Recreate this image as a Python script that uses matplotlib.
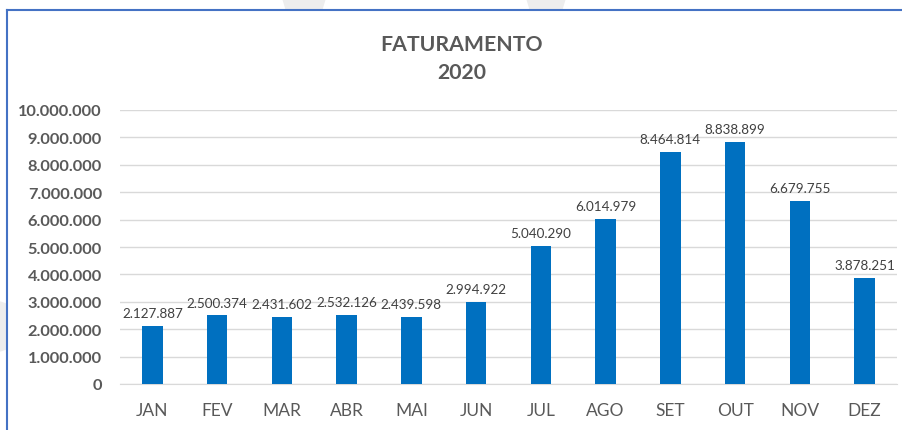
import matplotlib.pyplot as plt
from matplotlib.lines import Line2D
from matplotlib.patches import Polygon

months = ["JAN", "FEV", "MAR", "ABR", "MAI", "JUN",
          "JUL", "AGO", "SET", "OUT", "NOV", "DEZ"]
faturamento = [2127887, 2500374, 2431602, 2532126, 2439598, 2994922,
               5040290, 6014979, 8464814, 8838899, 6679755, 3878251]
y_ticks = list(range(0, 10000001, 1000000))

TXT = "#595959"
BAR = "#0070C0"

def fmt(v):
    return f"{v:,}".replace(",", ".")

plt.rcParams["font.family"] = ["Lato", "DejaVu Sans"]

fig = plt.figure(figsize=(9.03, 4.31), dpi=100)
W, H = 903, 431

# faint watermark shapes behind the chart
fig.patches.append(Polygon([(283 / W, 1), (325 / W, 1), (322 / W, 1 - 10 / H), (286 / W, 1 - 10 / H)],
                           closed=True, transform=fig.transFigure, color="#ededed", zorder=0))
fig.patches.append(Polygon([(527 / W, 1), (565 / W, 1), (562 / W, 1 - 10 / H), (530 / W, 1 - 10 / H)],
                           closed=True, transform=fig.transFigure, color="#ededed", zorder=0))
fig.patches.append(Polygon([(0, 1 - 303 / H), (6 / W, 1 - 305 / H), (6 / W, 1 - 350 / H), (0, 1 - 352 / H)],
                           closed=True, transform=fig.transFigure, color="#ededed", zorder=0))

# chart border (only top and left visible in the crop)
fig.add_artist(Line2D([7 / W, 1], [1 - 10.5 / H, 1 - 10.5 / H], transform=fig.transFigure,
                      color="#4472C4", lw=1.5))
fig.add_artist(Line2D([7 / W, 7 / W], [0, 1 - 10.5 / H], transform=fig.transFigure,
                      color="#4472C4", lw=1.5))

ax = fig.add_axes([120 / W, 1 - 385 / H, 777 / W, 274 / H])
x = range(len(months))
ax.bar(x, faturamento, width=0.32, color=BAR, zorder=3)
for xi, v in zip(x, faturamento):
    ax.annotate(fmt(v), (xi, v), xytext=(0, 5), textcoords="offset points",
                ha="center", va="bottom", fontsize=9.7, color="#404040")

ax.set_xlim(-0.5, len(months) - 0.5)
ax.set_ylim(0, 10000000)
ax.set_yticks(y_ticks)
ax.set_yticklabels([fmt(t) for t in y_ticks], fontsize=11.8, fontweight="bold", color=TXT)
ax.set_xticks(list(x))
ax.set_xticklabels(months, fontsize=12.5, color=TXT)
ax.tick_params(axis="both", length=0)
ax.tick_params(axis="y", pad=13)
ax.tick_params(axis="x", pad=13)
ax.grid(axis="y", color="#d9d9d9", lw=1, zorder=0)
for s in ["top", "right", "left"]:
    ax.spines[s].set_visible(False)
ax.spines["bottom"].set_color("#d9d9d9")

fig.text(462 / W, 1 - 45 / H, "FATURAMENTO", ha="center", va="center",
         fontsize=15.3, fontweight="bold", color=TXT)
fig.text(462 / W, 1 - 73 / H, "2020", ha="center", va="center",
         fontsize=15.3, fontweight="bold", color=TXT)

fig.savefig("out.png", dpi=100)
